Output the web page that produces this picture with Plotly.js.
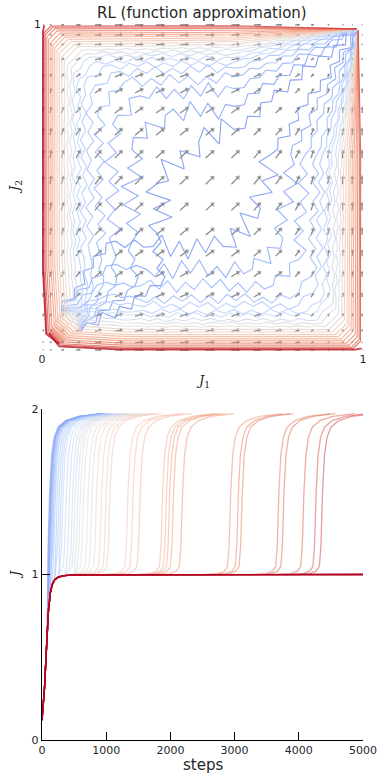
<!DOCTYPE html>
<html>
<head>
<meta charset="utf-8">
<script src="https://cdn.plot.ly/plotly-3.0.1.min.js"></script>
<style>html,body{margin:0;padding:0;background:#fff}#plot{width:385px;height:781px}</style>
</head>
<body>
<div id="plot"></div>
<script>
// quiver grid (same positions on both axes) and arrow components
const gridPos = [0.003, 0.025, 0.06, 0.106, 0.165, 0.227, 0.29, 0.355, 0.43, 0.51, 0.59, 0.66, 0.728, 0.789, 0.838, 0.89, 0.936, 0.966, 0.997];
const arrowU = [0.5, 1.5, 3, 5, 7.5, 9, 9.5, 10, 10, 10, 9.5, 8, 7, 5, 3, 1.5, 1, 0.5, 0.3];   // per column
const arrowV = [0.3, 1, 2, 3, 4.5, 6, 7, 8, 9, 9.5, 9, 8, 6.5, 5, 3.5, 2, 1, 0.5, 0.3];        // per row

// runs, sorted from fastest to slowest escape (null = never leaves J=1)
const escapeStep = [120, 130, 140, 150, 160, 175, 190, 210,
  240, 270, 300, 330, 380, 430,
  480, 520, 560, 600, 650,
  720, 780, 850, 930, 1000, 1060,
  1340, 1420, 1530,
  1880, 1940, 1990, 2050, 2190,
  2940, 3060, 3120,
  3690, 3770, 4080, 4270, 4370,
  null, null, null, null];
// distance of each run's path from the border of the (J1, J2) square
const inset = [0.36, 0.32, 0.28, 0.25, 0.22, 0.2, 0.18, 0.16,
  0.15, 0.14, 0.13, 0.12, 0.115, 0.11,
  0.1, 0.095, 0.09, 0.085, 0.08,
  0.075, 0.07, 0.066, 0.062, 0.058, 0.054,
  0.05, 0.047, 0.044,
  0.04, 0.037, 0.034, 0.031, 0.028,
  0.024, 0.021, 0.018,
  0.015, 0.012, 0.01, 0.008, 0.006,
  0.005, 0.004, 0.003, 0.002];

// shape of the two rises of J (first 0 -> 1, second 1 -> 2 around escapeStep)
const firstRiseT = [0, 20, 40, 60, 80, 100, 130, 160, 200, 260, 350, 500];
const firstRiseJ = [0.12, 0.2, 0.32, 0.48, 0.64, 0.78, 0.89, 0.94, 0.97, 0.985, 0.993, 0.998];
const secondRiseDt = [-400, -200, -100, -50, -25, 0, 30, 70, 130, 250, 450, 650, 800];
const secondRiseJ = [1.0, 1.005, 1.02, 1.05, 1.18, 1.5, 1.72, 1.83, 1.89, 1.93, 1.955, 1.967, 1.972];

// zigzag of the noisy (blue) runs
const wiggle = [0.8, -0.6, 1, -0.9, 0.4, -1, 0.7, -0.3, 0.9, -0.8, 0.5, -0.7, 1, -0.5, 0.6, -1, 0.3, -0.9, 0.8, -0.4, 1, -0.6, 0.5, -0.8];

const coolwarmStops = [[59,76,192],[98,130,234],[141,176,254],[184,208,249],[221,220,220],[245,196,173],[244,154,123],[222,96,76],[180,4,38]];

function coolwarm(t, a) {
    const p = t * (coolwarmStops.length - 1);
    const i = Math.min(Math.floor(p), coolwarmStops.length - 2);
    const f = p - i;
    const c = coolwarmStops[i].map((v, k) => Math.round(v + (coolwarmStops[i+1][k] - v) * f));
    return 'rgba(' + c[0] + ',' + c[1] + ',' + c[2] + ',' + a + ')';
}

function wiggly(W, amp, seed) {
    if (amp <= 0) return W;
    let out = [W[0]];
    let c = seed;
    for (let i = 0; i < W.length - 1; i++) {
        const [x0, y0] = W[i], [x1, y1] = W[i+1];
        const len = Math.hypot(x1 - x0, y1 - y0);
        const n = Math.max(1, Math.round(len / 0.028));
        const nx = -(y1 - y0) / len, ny = (x1 - x0) / len;
        const a = (i === W.length - 2 || i < 2) ? amp * 0.4 : amp;
        for (let s = 1; s <= n; s++) {
            const f = s / n;
            const off = s < n ? wiggle[(c++) % wiggle.length] * a : 0;
            out.push([x0 + (x1 - x0) * f + nx * off, y0 + (y1 - y0) * f + ny * off]);
        }
    }
    return out;
}

const N = escapeStep.length;
// paper x runs over the plot area only (margins l=42, r=22)
const px2paperX = px => (px - 42) / 321;
const px2paperY = py => 1 - py / 781;
let data = [];

// quiver
let ax = [], ay = [], tx = [], ty = [], tang = [], tsize = [];
const arrowScale = 0.0022;
for (let j = 0; j < gridPos.length; j++) {
    for (let i = 0; i < gridPos.length; i++) {
        const x = gridPos[i], y = gridPos[j];
        const dx = arrowU[i] * arrowScale, dy = arrowV[j] * arrowScale;
        ax.push(x, x + dx, null); ay.push(y, y + dy, null);
        const lpx = Math.hypot(dx * 321, dy * 327);
        tx.push(x + dx); ty.push(y + dy);
        tang.push(Math.atan2(dx * 321, dy * 327) * 180 / Math.PI);
        tsize.push(Math.min(5, 1.5 + lpx * 0.45));
    }
}
data.push({x: ax, y: ay, xaxis: 'x', yaxis: 'y', mode: 'lines', line: {color: 'rgba(90,90,90,0.7)', width: 1.3}, hoverinfo: 'skip', showlegend: false});
data.push({x: tx, y: ty, xaxis: 'x', yaxis: 'y', mode: 'markers', marker: {symbol: 'triangle-up', size: tsize, angle: tang, color: 'rgba(90,90,90,0.75)', line: {width: 0}}, hoverinfo: 'skip', showlegend: false});

// trajectories in the (J1, J2) plane
for (let k = 0; k < N; k++) {
    const d = inset[k];
    const col = coolwarm(0.15 + 0.85 * k / (N - 1), 0.8);
    let W = [[Math.min(d + 0.05, 0.12), Math.min(0.5*d + 0.02, 0.06)], [d + 0.01, Math.min(d + 0.05, 0.2)],
             [d, 0.25 + 0.3*d], [d, 1 - d - 0.02 - 0.3*d]];
    if (escapeStep[k] === null) {
        W.push([d + 0.004, 0.996]);
    } else {
        W.push([d + 0.02 + 0.3*d, 1 - d], [0.6, 1 - d + 0.1*d], [0.98, 0.985]);
    }
    let P = wiggly(W, Math.max(0, d - 0.06) * 0.15, k * 5);
    if (k % 2 === 1) P = P.map(p => [p[1], p[0]]);
    data.push({x: P.map(p => p[0]), y: P.map(p => p[1]), xaxis: 'x', yaxis: 'y', mode: 'lines',
        line: {color: col, width: 1.1}, hoverinfo: 'skip', showlegend: false});
}

// J against steps
for (let k = 0; k < N; k++) {
    const col = coolwarm(0.15 + 0.85 * k / (N - 1), 0.5);
    const te = escapeStep[k];
    let xs = [], ys = [];
    for (let i = 0; i < firstRiseT.length; i++) {
        if (te === null || firstRiseT[i] < te - 30) { xs.push(firstRiseT[i]); ys.push(firstRiseJ[i]); }
    }
    if (te === null) {
        xs.push(5000); ys.push(1.0);
    } else {
        const last = xs[xs.length - 1];
        for (let i = 0; i < secondRiseDt.length; i++) {
            const t = te + secondRiseDt[i];
            if (t > last) { xs.push(t); ys.push(secondRiseJ[i]); }
        }
    }
    data.push({x: xs, y: ys, xaxis: 'x2', yaxis: 'y2', mode: 'lines',
        line: {color: te === null ? coolwarm(1, 0.8) : col, width: te === null ? 1.4 : 1.3}, hoverinfo: 'skip', showlegend: false});
}

const tickFont = {family: 'DejaVu Sans', size: 11, color: '#262626'};
const labelFont = {family: 'DejaVu Serif', size: 13, color: '#262626'};
const layout = {
    width: 385, height: 781,
    margin: {l: 42, r: 22, t: 0, b: 0},
    paper_bgcolor: '#fff', plot_bgcolor: '#fff',
    showlegend: false,
    xaxis: {domain: [0, 1], range: [0, 1], anchor: 'y', showgrid: false, zeroline: false, showline: false,
        tickvals: [0, 1], ticktext: ['0', '1'], ticks: '', tickfont: tickFont},
    yaxis: {domain: [1 - 351/781, 1 - 24/781], range: [0, 1], anchor: 'x', showgrid: false, zeroline: false, showline: false,
        tickvals: [1], ticktext: ['1'], ticks: '', tickfont: tickFont},
    xaxis2: {domain: [0, 1], range: [0, 5000], anchor: 'y2', showgrid: false, zeroline: false,
        showline: true, linecolor: '#000', linewidth: 1.2, ticks: 'inside', ticklen: 8, tickcolor: '#000', tickwidth: 1.2,
        tickvals: [0, 1000, 2000, 3000, 4000, 5000], tickfont: tickFont},
    yaxis2: {domain: [1 - 740/781, 1 - 409/781], range: [0, 2], anchor: 'x2', showgrid: false, zeroline: false,
        showline: true, linecolor: '#000', linewidth: 1.2, ticks: 'inside', ticklen: 8, tickcolor: '#000', tickwidth: 1.2,
        tickvals: [0, 1, 2], tickfont: tickFont},
    annotations: [
        {text: 'RL (function approximation)', xref: 'paper', yref: 'paper', x: px2paperX(202), y: px2paperY(13), showarrow: false,
            xanchor: 'center', yanchor: 'middle', font: {family: 'DejaVu Sans', size: 15, color: '#262626'}},
        {text: '<i>J</i><sub>1</sub>', xref: 'paper', yref: 'paper', x: px2paperX(203), y: px2paperY(381), showarrow: false,
            xanchor: 'center', yanchor: 'middle', font: labelFont},
        {text: '<i>J</i><sub>2</sub>', xref: 'paper', yref: 'paper', x: px2paperX(15), y: px2paperY(187), showarrow: false, textangle: -90,
            xanchor: 'center', yanchor: 'middle', font: labelFont},
        {text: '<i>J</i>', xref: 'paper', yref: 'paper', x: px2paperX(15), y: px2paperY(575), showarrow: false, textangle: -90,
            xanchor: 'center', yanchor: 'middle', font: labelFont},
        {text: 'steps', xref: 'paper', yref: 'paper', x: px2paperX(203), y: px2paperY(765), showarrow: false,
            xanchor: 'center', yanchor: 'middle', font: {family: 'DejaVu Sans', size: 15, color: '#262626'}}
    ]
};

Plotly.newPlot('plot', data, layout, {displayModeBar: false, staticPlot: true});
</script>
</body>
</html>
